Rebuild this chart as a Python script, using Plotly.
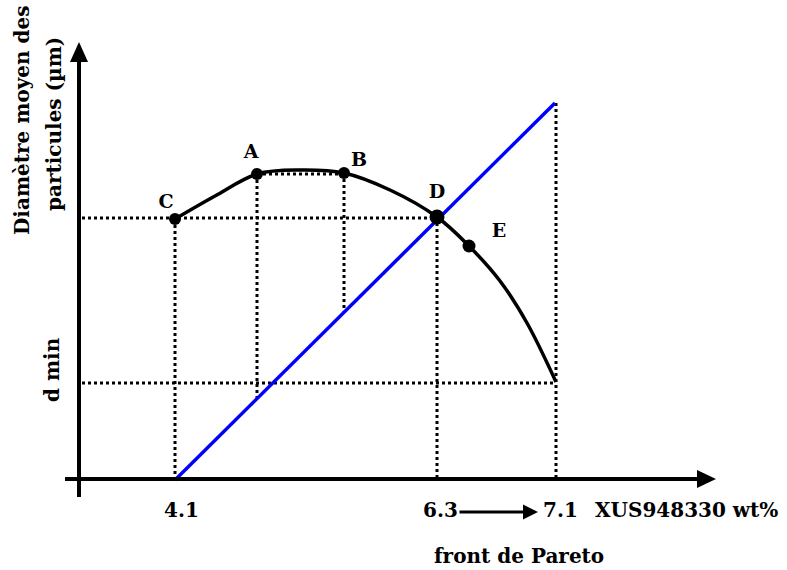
import plotly.graph_objects as go

# Schematic coordinates (chart units; y grows downward)
curve_x = [175, 215, 257, 300, 344, 390, 437, 469, 500, 527, 556]
curve_y = [219, 196, 174, 170, 173, 190, 217, 246, 281, 323, 382]

point_names = ["C", "A", "B", "D", "E"]
point_x = [175, 257, 344, 437, 469]
point_y = [219, 174, 173, 217, 246]
label_x = [166, 251, 359, 437, 499]
label_y = [203, 153, 161, 193, 232]

blue_x = [175, 555]
blue_y = [480, 103]

# dotted guide lines: (x0, y0, x1, y1)
guides = [
    (82, 218, 437, 218),
    (82, 383, 556, 383),
    (257, 174, 344, 174),
    (175, 219, 175, 480),
    (257, 174, 257, 399),
    (344, 173, 344, 312),
    (437, 217, 437, 480),
    (556, 103, 556, 480),
]

tick_vals = [181, 440, 560]
tick_text = ["4.1", "6.3", "7.1"]

FONT = "DejaVu Serif"
tfont = dict(family=FONT, size=20, color="black", weight="bold")
lfont = dict(family=FONT, size=19, color="black", weight="bold")

fig = go.Figure()

for x0, y0, x1, y1 in guides:
    fig.add_trace(go.Scatter(x=[x0, x1], y=[y0, y1], mode="lines",
                             line=dict(color="black", width=3, dash="dot"),
                             hoverinfo="skip", showlegend=False))

fig.add_trace(go.Scatter(x=blue_x, y=blue_y, mode="lines",
                         line=dict(color="#0000ff", width=3.5), showlegend=False))
fig.add_trace(go.Scatter(x=curve_x, y=curve_y, mode="lines",
                         line=dict(color="black", width=3.5, shape="spline", smoothing=1.0),
                         showlegend=False))
fig.add_trace(go.Scatter(x=point_x, y=point_y, mode="markers",
                         marker=dict(color="black", opacity=1, size=[12, 12, 12, 15, 13],
                                     line=dict(width=0)),
                         showlegend=False))
fig.add_trace(go.Scatter(x=label_x, y=label_y, mode="text", text=point_names,
                         textfont=lfont, showlegend=False))

# axes with arrows
shapes = [
    dict(type="line", x0=79, y0=497, x1=79, y1=58, line=dict(color="black", width=4)),
    dict(type="path", path="M 70 62 L 88 62 L 79 42 Z", fillcolor="black", line=dict(width=0)),
    dict(type="line", x0=65, y0=479, x1=700, y1=479, line=dict(color="black", width=4)),
    dict(type="path", path="M 697 470 L 697 488 L 716 479 Z", fillcolor="black", line=dict(width=0)),
]

annotations = []
for tv, tt in zip(tick_vals, tick_text):
    annotations.append(dict(x=tv, y=510, text=tt, showarrow=False, font=tfont))
annotations += [
    dict(x=686, y=510, text="XUS948330 wt%", showarrow=False, font=tfont),
    dict(x=519, y=556, text="front de Pareto", showarrow=False, font=tfont),
    dict(x=22, y=120, text="Diamètre moyen des", textangle=-90, showarrow=False, font=tfont),
    dict(x=54, y=124, text="particules (µm)", textangle=-90, showarrow=False, font=tfont),
    dict(x=52, y=370, text="d min", textangle=-90, showarrow=False, font=tfont),
    dict(x=538, y=512, ax=458, ay=512, xref="x", yref="y", axref="x", ayref="y",
         showarrow=True, arrowhead=2, arrowsize=1, arrowwidth=3, arrowcolor="black", text=""),
]

fig.update_layout(
    width=787, height=570,
    margin=dict(l=0, r=0, t=0, b=0),
    paper_bgcolor="white", plot_bgcolor="white",
    xaxis=dict(range=[0, 787], visible=False, fixedrange=True),
    yaxis=dict(range=[570, 0], visible=False, fixedrange=True),
    shapes=shapes, annotations=annotations,
    font=dict(family=FONT, color="black"),
)

fig.write_html("out.html", config={"displayModeBar": False},
               post_script="document.body.style.margin='0px';")
